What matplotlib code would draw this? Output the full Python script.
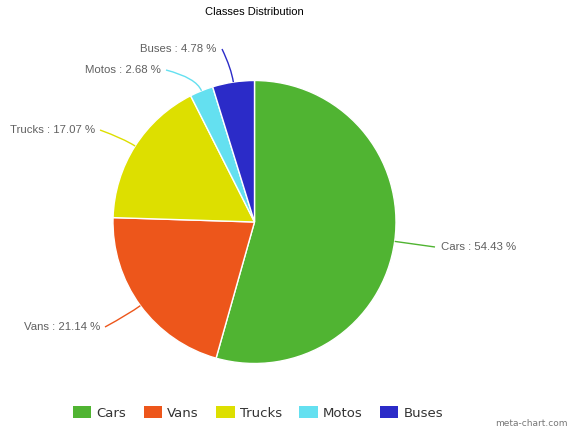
import numpy as np
import matplotlib
matplotlib.use("Agg")
import matplotlib.pyplot as plt
from matplotlib.patches import Patch, PathPatch
from matplotlib.path import Path

categories = ["Cars", "Vans", "Trucks", "Motos", "Buses"]
shares = [54.43, 21.14, 17.07, 2.68, 4.78]
colors = ["#50B432", "#ED561B", "#DDDF00", "#64E0F0", "#2B2BC8"]

W, H = 571, 432
fig = plt.figure(figsize=(W / 100, H / 100), dpi=100)
ax = fig.add_axes([0, 0, 1, 1])


def py(y):
    # top-down pixel row to axes data y
    return H - y


cx, cy, r = 254.5, 222.0, 141.5
wedges, _ = ax.pie(shares, colors=colors, startangle=90, counterclock=False,
                   center=(cx, py(cy)), radius=r, frame=True,
                   wedgeprops=dict(edgecolor="white", linewidth=1.0))
ax.set_xlim(0, W)
ax.set_ylim(0, H)
ax.set_aspect("equal")
ax.axis("off")

# label anchors: (connector end x, y, text x, alignment)
anchors = {
    "Cars": (435, 247, 441, "left"),
    "Vans": (105, 327, 100, "right"),
    "Trucks": (100, 130, 95, "right"),
    "Motos": (166, 70, 161, "right"),
    "Buses": (222, 49, 216, "right"),
}

label_font = ["Liberation Sans", "DejaVu Sans"]
for w, name, val, col in zip(wedges, categories, shares, colors):
    mid = np.deg2rad((w.theta1 + w.theta2) / 2)
    ex, ey = cx + r * np.cos(mid), py(cy) + r * np.sin(mid)
    ox, oy = cx + (r + 14) * np.cos(mid), py(cy) + (r + 14) * np.sin(mid)
    ax_, ay_, tx, ha = anchors[name]
    ay_ = py(ay_)
    path = Path([(ex, ey), (ox, oy), (ax_, ay_)],
                [Path.MOVETO, Path.CURVE3, Path.CURVE3])
    ax.add_patch(PathPatch(path, facecolor="none", edgecolor=col, lw=1.0))
    ax.text(tx, ay_, f"{name} : {val:.2f} %", ha=ha, va="center",
            fontsize=8.2, color="#606060", family=label_font)

fig.text(254 / W, 1 - 12 / H, "Classes Distribution", ha="center", va="center",
         fontsize=8, color="#000000", family=label_font)

handles = [Patch(facecolor=c, edgecolor="none", label=n) for n, c in zip(categories, colors)]
fig.legend(handles=handles, loc="center", bbox_to_anchor=(258 / W, 1 - 413 / H),
           ncol=5, frameon=False, fontsize=9.5, handlelength=1.4, handleheight=0.95,
           handletextpad=0.4, columnspacing=1.3, labelcolor="#333333")

fig.text(568 / W, 1 - 424 / H, "meta-chart.com", ha="right", va="center",
         fontsize=6.5, color="#777777", family="DejaVu Sans")

fig.savefig("out.png", dpi=100)
